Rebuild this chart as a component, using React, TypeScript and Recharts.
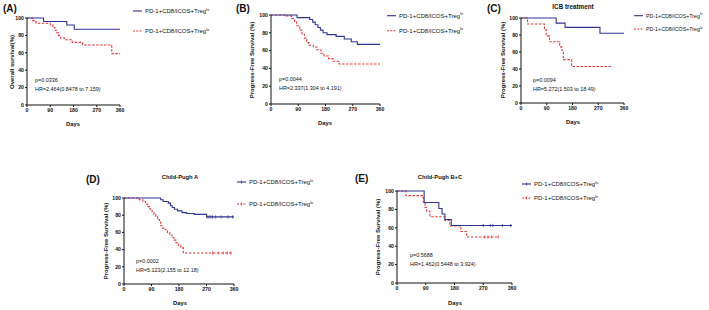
import { ComposedChart, Line, Scatter, XAxis, YAxis } from 'recharts';

type Pair = [number, number];

const DAY_TICKS = [0, 90, 180, 270, 360];
const PCT_TICKS = [0, 20, 40, 60, 80, 100];

// (A) overall survival
const A_HI: Pair[] = [[0, 100], [64, 96], [154, 92], [183, 87], [360, 87]];
const A_LO: Pair[] = [
  [0, 100], [22, 97], [35, 94], [90, 92], [100, 89], [108, 86], [115, 83], [122, 80],
  [130, 77], [145, 75], [175, 72], [215, 69], [328, 59], [360, 59],
];

// (B) PFS all
const B_HI: Pair[] = [
  [0, 100], [86, 97], [128, 95], [138, 92], [146, 89], [155, 86], [163, 83], [172, 80],
  [185, 78], [215, 76], [242, 73], [265, 70], [285, 67], [360, 67],
];
const B_LO: Pair[] = [
  [0, 100], [50, 99], [68, 96], [78, 92], [85, 88], [95, 83], [102, 79], [110, 74],
  [118, 69], [125, 66], [140, 64], [152, 61], [165, 57], [175, 54], [190, 51], [205, 48],
  [225, 45], [360, 45],
];

// (C) ICB treatment
const C_HI: Pair[] = [[0, 100], [123, 94], [154, 89], [276, 82], [360, 82]];
const C_LO: Pair[] = [
  [0, 100], [23, 93], [82, 86], [88, 79], [100, 72], [135, 66], [142, 62], [148, 51],
  [177, 43], [317, 43],
];

// (D) Child-Pugh A
const D_HI: Pair[] = [
  [0, 100], [120, 98], [128, 96], [145, 94], [152, 91], [158, 89], [165, 87], [175, 85],
  [190, 83], [205, 82], [230, 81], [270, 78], [360, 78],
];
const D_LO: Pair[] = [
  [0, 100], [50, 98], [62, 96], [70, 93], [78, 90], [85, 87], [92, 84], [98, 81],
  [104, 78], [110, 75], [116, 72], [120, 68], [124, 65], [135, 63], [142, 60], [150, 57],
  [157, 54], [163, 51], [170, 48], [178, 45], [186, 42], [194, 36], [355, 36],
];
const D_HI_CENS: Pair[] = [[272, 78], [278, 78], [284, 78], [290, 78], [300, 78], [318, 78], [340, 78], [356, 78]];
const D_LO_CENS: Pair[] = [[290, 36], [310, 36], [325, 36], [338, 36], [350, 36]];

// (E) Child-Pugh B+C
const E_HI: Pair[] = [[0, 100], [85, 87.5], [131, 81], [141, 75], [150, 69], [170, 62.5], [360, 62.5]];
const E_LO: Pair[] = [
  [0, 100], [28, 95], [82, 88], [88, 82], [93, 78], [103, 72], [150, 68], [165, 62],
  [200, 56], [218, 50], [317, 50],
];
const E_HI_CENS: Pair[] = [[270, 62.5], [292, 62.5], [300, 62.5], [330, 62.5], [356, 62.5]];
const E_LO_CENS: Pair[] = [[275, 50], [285, 50], [295, 50], [317, 50]];

const FONT = "'Liberation Sans', Arial, sans-serif";
const BLUE = '#2f3591';
const RED = '#e8363a';
const INK = '#111';

const toPts = (a: Pair[]) => a.map(([d, s]) => ({ d, s }));

interface PanelProps {
  x: number;
  y: number;
  w: number;
  h: number;
  hi: Pair[];
  lo: Pair[];
  hiCens?: Pair[];
  loCens?: Pair[];
}

const YW = 22;
const XH = 14;
const TOP = 4;
const RIGHT = 6;

function tickMark(color: string) {
  return (p: any) => (
    <line x1={p.cx} x2={p.cx} y1={p.cy - 1.6} y2={p.cy + 1.6} stroke={color} strokeWidth={0.8} />
  );
}

function Panel({ x, y, w, h, hi, lo, hiCens, loCens }: PanelProps) {
  const tick = { fontSize: 5.2, fontWeight: 700, fill: INK, fontFamily: FONT };
  return (
    <div style={{ position: 'absolute', left: x - YW, top: y - TOP }}>
      <ComposedChart
        width={w + YW + RIGHT}
        height={h + TOP + XH}
        margin={{ top: TOP, right: RIGHT, bottom: 0, left: 0 }}
      >
        <XAxis
          type="number"
          dataKey="d"
          domain={[0, 360]}
          ticks={DAY_TICKS}
          interval={0}
          height={XH}
          tickSize={2}
          tickMargin={1}
          tick={tick}
          axisLine={{ stroke: INK, strokeWidth: 1 }}
          tickLine={{ stroke: INK, strokeWidth: 1 }}
        />
        <YAxis
          type="number"
          dataKey="s"
          domain={[0, 100]}
          ticks={PCT_TICKS}
          interval={0}
          width={YW}
          tickSize={2}
          tickMargin={1}
          tick={tick}
          axisLine={{ stroke: INK, strokeWidth: 1 }}
          tickLine={{ stroke: INK, strokeWidth: 1 }}
        />
        <Line
          data={toPts(lo)}
          dataKey="s"
          type="stepAfter"
          stroke={RED}
          strokeWidth={1.1}
          strokeDasharray="2.5 1.5"
          dot={false}
          isAnimationActive={false}
        />
        <Line
          data={toPts(hi)}
          dataKey="s"
          type="stepAfter"
          stroke={BLUE}
          strokeWidth={1.1}
          dot={false}
          isAnimationActive={false}
        />
        {hiCens && (
          <Scatter data={toPts(hiCens)} dataKey="s" shape={tickMark(BLUE)} isAnimationActive={false} />
        )}
        {loCens && (
          <Scatter data={toPts(loCens)} dataKey="s" shape={tickMark(RED)} isAnimationActive={false} />
        )}
      </ComposedChart>
    </div>
  );
}

interface LegendProps {
  x: number;
  y: number;
  gap: number;
  marker?: boolean;
  size?: number;
}

function Legend({ x, y, gap, marker, size = 6 }: LegendProps) {
  const lineW = 9;
  const item = (yy: number, color: string, dashed: boolean, sup: string) => (
    <g>
      <line
        x1={x}
        x2={x + lineW}
        y1={yy}
        y2={yy}
        stroke={color}
        strokeWidth={1.1}
        strokeDasharray={dashed ? '2 1.2' : undefined}
      />
      {marker && (
        <line x1={x + lineW / 2} x2={x + lineW / 2} y1={yy - 1.5} y2={yy + 1.5} stroke={color} strokeWidth={0.8} />
      )}
      <text x={x + lineW + 3} y={yy + 2} fontSize={size} fill={INK} fontFamily={FONT}>
        PD-1+CD8/ICOS+Treg
        <tspan fontSize={size * 0.63} dy={-2.3}>
          {sup}
        </tspan>
      </text>
    </g>
  );
  return (
    <g>
      {item(y, BLUE, false, 'hi')}
      {item(y + gap, RED, true, 'lo')}
    </g>
  );
}

function Stats({ x, y, p, hr }: { x: number; y: number; p: string; hr: string }) {
  return (
    <g fontSize={5.4} fill={INK} fontFamily={FONT}>
      <text x={x} y={y}>{p}</text>
      <text x={x} y={y + 8.5}>{hr}</text>
    </g>
  );
}

function YLabel({ x, y, text }: { x: number; y: number; text: string }) {
  return (
    <text
      transform={`translate(${x},${y}) rotate(-90)`}
      textAnchor="middle"
      dominantBaseline="central"
      fontSize={6}
      fontWeight={700}
      fill={INK}
      fontFamily={FONT}
    >
      {text}
    </text>
  );
}

function Txt({ x, y, text, size = 6, anchor = 'middle' }: { x: number; y: number; text: string; size?: number; anchor?: string }) {
  return (
    <text
      x={x}
      y={y}
      textAnchor={anchor as any}
      dominantBaseline="central"
      fontSize={size}
      fontWeight={700}
      fill={INK}
      fontFamily={FONT}
    >
      {text}
    </text>
  );
}

export default function App() {
  return (
    <div style={{ position: 'absolute', left: 0, top: 0, width: 709, height: 310, background: '#fff', overflow: 'hidden' }}>
      <Panel x={27} y={18} w={93} h={87} hi={A_HI} lo={A_LO} />
      <Panel x={271} y={15} w={109} h={89} hi={B_HI} lo={B_LO} />
      <Panel x={521} y={18} w={103} h={85} hi={C_HI} lo={C_LO} />
      <Panel x={124} y={198} w={110} h={86} hi={D_HI} lo={D_LO} hiCens={D_HI_CENS} loCens={D_LO_CENS} />
      <Panel x={397} y={191} w={115} h={92} hi={E_HI} lo={E_LO} hiCens={E_HI_CENS} loCens={E_LO_CENS} />

      <svg width={709} height={310} style={{ position: 'absolute', left: 0, top: 0, pointerEvents: 'none' }}>
        <Txt x={3} y={8} text="(A)" size={10} anchor="start" />
        <Txt x={236} y={8} text="(B)" size={10} anchor="start" />
        <Txt x={487} y={8} text="(C)" size={10} anchor="start" />
        <Txt x={86} y={179} text="(D)" size={10} anchor="start" />
        <Txt x={355} y={178} text="(E)" size={10} anchor="start" />

        <Txt x={573} y={6} text="ICB treatment" size={6.3} />
        <Txt x={180} y={177} text="Child-Pugh A" size={5.8} />
        <Txt x={440} y={177} text="Child-Pugh B+C" size={5.8} />

        <Txt x={73} y={124} text="Days" size={5.8} />
        <Txt x={325} y={123} text="Days" size={5.8} />
        <Txt x={573} y={122} text="Days" size={5.8} />
        <Txt x={180} y={303} text="Days" size={5.8} />
        <Txt x={455} y={303} text="Days" size={5.8} />

        <YLabel x={12} y={62} text="Overall survival(%)" />
        <YLabel x={252} y={60} text="Progress-Free Survival  (%)" />
        <YLabel x={503} y={60} text="Progress-Free Survival  (%)" />
        <YLabel x={106} y={241} text="Progress-Free Survival  (%)" />
        <YLabel x={378} y={237} text="Progress-Free Survival  (%)" />

        <Legend x={133} y={11} gap={20} />
        <Legend x={387} y={15.7} gap={15} />
        <Legend x={634} y={15.7} gap={13.3} size={5.3} />
        <Legend x={237} y={182} gap={22} marker />
        <Legend x={522} y={184} gap={14} marker />

        <Stats x={35} y={82} p="p=0.0336" hr="HR=2.464(0.8478 to 7.159)" />
        <Stats x={279} y={81} p="p=0.0044" hr="HR=2.337(1.304 to 4.191)" />
        <Stats x={533} y={82} p="p=0.0094" hr="HR=5.272(1.503 to 18.49)" />
        <Stats x={136} y={263} p="p=0.0002" hr="HR=5.123(2.155 to 12.18)" />
        <Stats x={410} y={257} p="p=0.5688" hr="HR=1.462(0.5448 to 3.924)" />
      </svg>
    </div>
  );
}
